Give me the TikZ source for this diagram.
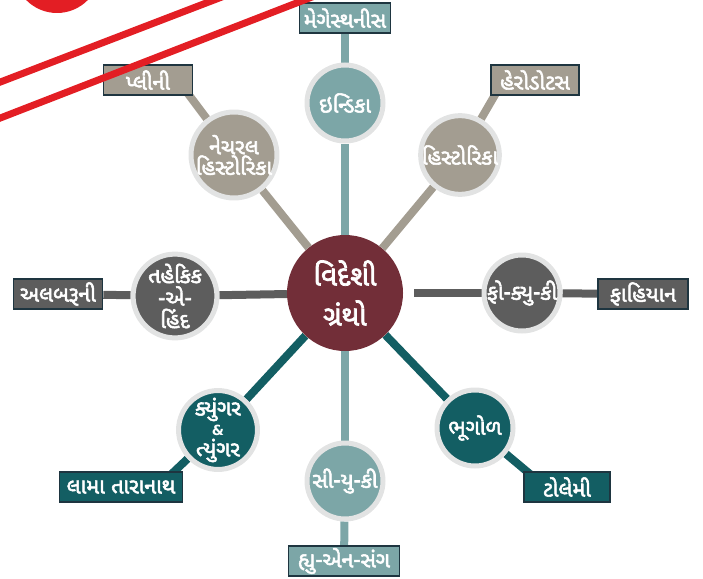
\documentclass[tikz,border=0pt]{standalone}
\usepackage{fontspec}
\newfontfamily\guj[Script=Gujarati,FakeBold=2.6]{Noto Sans Gujarati UI}
\newfontfamily\ampfont{DejaVu Sans}
\usetikzlibrary{positioning,backgrounds}

\definecolor{tealgray}{HTML}{7CA6A7}
\definecolor{warmgray}{HTML}{A39D91}
\definecolor{slategray}{HTML}{5D5D5D}
\definecolor{darkteal}{HTML}{135E63}
\definecolor{vidred}{HTML}{722E38}
\definecolor{ringgray}{HTML}{E2E3E3}
\definecolor{boxedge}{HTML}{1E3540}
\definecolor{redband}{HTML}{E31E24}

\begin{document}
\begin{tikzpicture}[x=1pt,y=-1pt,text=white,
                    font=\guj\fontsize{21.5}{20}\selectfont]
  \tikzstyle{book}=[circle,draw=ringgray,line width=5pt,minimum size=76pt,
                    inner sep=0pt,align=center,font=\guj\fontsize{21.5}{20.5}\selectfont]
  \tikzstyle{author}=[rectangle,draw=boxedge,line width=1.6pt,
                      minimum height=30pt,inner sep=1pt]
  \useasboundingbox (0,0) rectangle (703,578);

  % centre
  \node[circle,fill=vidred,minimum size=116pt,inner sep=0pt,align=center,
        font=\guj\fontsize{28}{40}\selectfont] (vid) at (345,293) {વિદેશી\\ગ્રંથો};

  % books
  \node[book,fill=tealgray] (indika) at (345,103) {ઇન્ડિકા};
  \node[book,fill=warmgray] (histo) at (460,155) {હિસ્ટોરિકા};
  \node[book,fill=warmgray] (natural) at (234,155) {નેચરલ\\હિસ્ટોરિકા};
  \node[book,fill=slategray,font=\guj\fontsize{21.5}{22.5}\selectfont] (tahekik) at (175,296) {તહેકિક\\-એ-\\હિંદ};
  \node[book,fill=slategray] (fokyuki) at (522,293) {ફો-ક્યુ-કી};
  \node[book,fill=darkteal] (kyungar) at (218,430) {ક્યુંગર\\{\ampfont\bfseries\fontsize{14}{20}\selectfont\&}\\ત્યુંગર};
  \node[book,fill=darkteal] (bhugol) at (475,428) {ભૂગોળ};
  \node[book,fill=tealgray] (siyuki) at (345,481) {સી-યુ-કી};

  % authors
  \node[author,fill=tealgray,minimum width=91pt] (meg) at (345,18) {મેગેસ્થનીસ};
  \node[author,fill=warmgray,minimum width=88pt] (hero) at (535,80) {હેરોડોટસ};
  \node[author,fill=warmgray,minimum width=89pt] (pliny) at (148,80) {પ્લીની};
  \node[author,fill=slategray,minimum width=89pt] (albe) at (58,294) {અલબરૂની};
  \node[author,fill=slategray,minimum width=90pt] (fahi) at (643,294) {ફાહિયાન};
  \node[author,fill=darkteal,minimum width=123pt] (lama) at (121,487) {લામા તારાનાથ};
  \node[author,fill=darkteal,minimum width=86pt] (tole) at (567,487) {ટોલેમી};
  \node[author,fill=tealgray,minimum width=111pt] (hyu) at (344,561) {હ્યુ-એન-સંગ};

  \begin{pgfonlayer}{background}
  \path[line width=8pt]
        (vid) edge[tealgray] (indika)
              edge[warmgray] (histo)
              edge[warmgray] (natural)
              edge[slategray] (tahekik)
              edge[slategray,shorten <=11pt] (fokyuki)
              edge[darkteal] (kyungar)
              edge[darkteal] (bhugol)
              edge[tealgray] (siyuki)
        (indika) edge[tealgray] (meg)
        (histo) edge[warmgray] ([xshift=6pt,yshift=3pt]hero.south west)
        (natural) edge[warmgray] ([xshift=-6pt,yshift=3pt]pliny.south east)
        (tahekik) edge[slategray] (albe)
        (fokyuki) edge[slategray] (fahi)
        (kyungar) edge[darkteal] ([xshift=-12pt,yshift=-3pt]lama.north east)
        (bhugol) edge[darkteal] ([xshift=7pt,yshift=-3pt]tole.north west)
        (siyuki) edge[tealgray] (hyu);
  \end{pgfonlayer}

  % red corner marks
  \begin{scope}
    \clip (0,0) rectangle (703,578);
    \fill[redband] (57,-30) circle[radius=43pt];
    \draw[redband,line width=7pt] (-10,86) -- (240,-10);
    \draw[redband,line width=7pt] (-10,122) -- (330,-10);
  \end{scope}
\end{tikzpicture}
\end{document}
